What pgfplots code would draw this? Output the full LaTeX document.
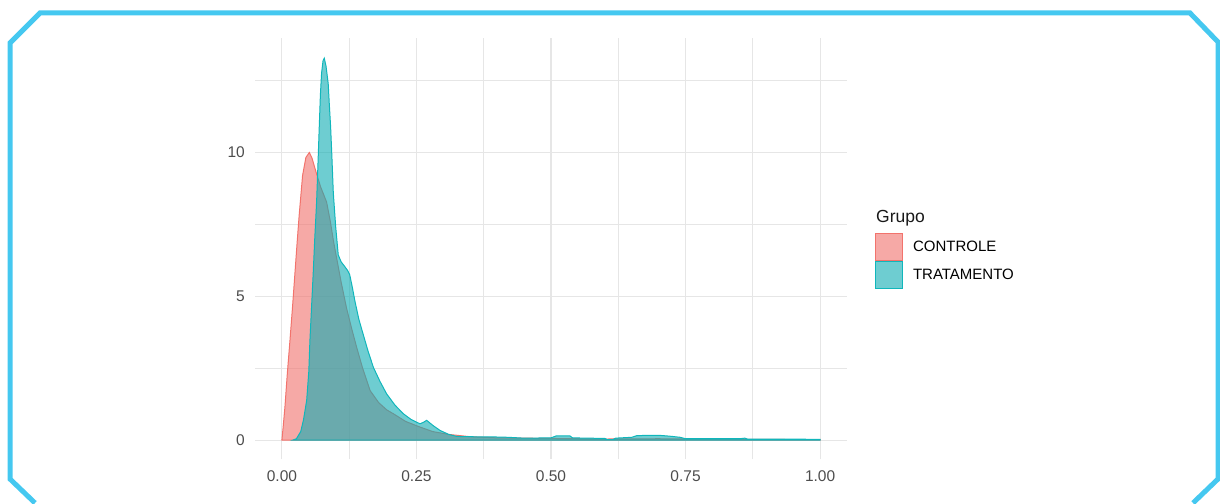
\documentclass[border=0pt]{standalone}
\usepackage{pgfplots}
\pgfplotsset{compat=1.18}
\usepackage{fontspec}
\setmainfont{Liberation Sans}
\definecolor{ctrl}{HTML}{F0706B}
\definecolor{ctrlline}{HTML}{F2736C}
\definecolor{trat}{HTML}{0DACB2}
\definecolor{tratline}{HTML}{10B6BB}
\definecolor{framec}{HTML}{45C8F0}
\definecolor{gridc}{HTML}{E6E6E6}
\definecolor{tickc}{HTML}{4D4D4D}
\begin{document}
\begin{tikzpicture}
\useasboundingbox (0,0) rectangle (1220pt,503pt);
\draw[framec, line width=5pt, line join=miter] (35pt,0pt) -- (10pt,24pt) -- (10pt,460pt) -- (40pt,490pt) -- (1190pt,490pt) -- (1218pt,461pt) -- (1218pt,24pt) -- (1193pt,0pt);
\begin{axis}[
  at={(255pt,43.7pt)}, anchor=south west,
  scale only axis, width=592pt, height=421pt,
  xmin=-0.05, xmax=1.05, ymin=-0.665, ymax=13.97,
  axis line style={draw=none},
  major tick length=0pt, minor tick length=0pt,
  xtick={0,0.25,0.5,0.75,1}, xticklabels={0.00,0.25,0.50,0.75,1.00},
  ytick={0,5,10}, yticklabels={0,5,10},
  minor xtick={0.125,0.375,0.625,0.875}, minor ytick={2.5,7.5,12.5},
  grid=both,
  major grid style={gridc, line width=1.1pt},
  minor grid style={gridc, line width=1.1pt},
  tick label style={font=\fontsize{15.5}{15.5}\selectfont, text=tickc},
  xticklabel style={inner sep=0pt, anchor=north, yshift=-11pt},
  yticklabel style={inner sep=0pt, anchor=east, xshift=-10pt},
  /pgf/number format/assume math mode=true,
  legend style={at={(1.0473,0.5375)}, anchor=north west, draw=none, fill=none,
    inner sep=0pt, outer sep=0pt, row sep=0pt, column sep=10pt,
    font=\fontsize{15}{15}\selectfont, nodes={inner sep=0pt}, cells={anchor=west}},
  legend image code/.code={\draw[#1, line width=1pt] (0pt,-13.5pt) rectangle (27pt,13.5pt);},
]
\addplot[draw=ctrlline, fill=ctrl, fill opacity=0.6, line width=1pt] coordinates {
(0.000,0) (0.003,0.6) (0.0056,1.15) (0.010,2.3) (0.0149,3.45) (0.020,4.7) (0.024,5.75)
(0.028,6.8) (0.032,7.8) (0.0384,9.2) (0.0446,9.83) (0.051,10.0) (0.056,9.8) (0.0645,9.25)
(0.072,8.8) (0.083,8.28) (0.090,7.6) (0.096,6.9) (0.102,6.3) (0.110,5.5) (0.120,4.6)
(0.130,3.85) (0.139,3.22) (0.150,2.5) (0.164,1.72) (0.180,1.3) (0.195,1.05) (0.207,0.92)
(0.230,0.65) (0.256,0.46) (0.280,0.3) (0.310,0.2) (0.350,0.12) (0.400,0.08) (0.500,0.06)
(0.600,0.04) (0.700,0.05) (0.800,0.03) (1.000,0.02)
} \closedcycle;
\addlegendentry{CONTROLE}
\addplot[draw=tratline, fill=trat, fill opacity=0.6, line width=1pt] coordinates {
(0.020,0) (0.027,0.05) (0.035,0.3) (0.040,0.7) (0.046,1.38) (0.050,2.4) (0.052,3.45)
(0.055,4.6) (0.058,5.75) (0.061,7.0) (0.0645,8.3) (0.067,9.6) (0.0694,10.9) (0.0715,12.0)
(0.0737,12.76) (0.0765,13.2) (0.0787,13.28) (0.082,13.0) (0.086,12.4) (0.088,11.7)
(0.0905,10.9) (0.093,9.8) (0.0955,8.6) (0.100,7.4) (0.1047,6.44) (0.110,6.2) (0.117,6.03)
(0.122,5.9) (0.126,5.75) (0.131,5.3) (0.1357,4.83) (0.143,4.2) (0.151,3.68) (0.160,3.1)
(0.170,2.53) (0.182,2.05) (0.1946,1.61) (0.210,1.22) (0.2255,0.92) (0.240,0.72) (0.2565,0.57)
(0.263,0.62) (0.269,0.69) (0.280,0.52) (0.2937,0.34) (0.310,0.2) (0.325,0.13) (0.35,0.12)
(0.40,0.11) (0.42,0.10) (0.45,0.07) (0.50,0.08) (0.51,0.15) (0.535,0.15) (0.54,0.08)
(0.60,0.06) (0.605,0.02) (0.615,0.02) (0.62,0.07) (0.65,0.10) (0.66,0.16) (0.70,0.17)
(0.72,0.14) (0.74,0.10) (0.75,0.05) (0.85,0.05) (0.86,0.07) (0.865,0.04) (1.00,0.03)
} \closedcycle;
\addlegendentry{TRATAMENTO}
\end{axis}
\node[anchor=base west, font=\fontsize{17.5}{17.5}\selectfont, text=black!90, inner sep=0pt] at (876pt,280pt) {Grupo};
\end{tikzpicture}
\end{document}
